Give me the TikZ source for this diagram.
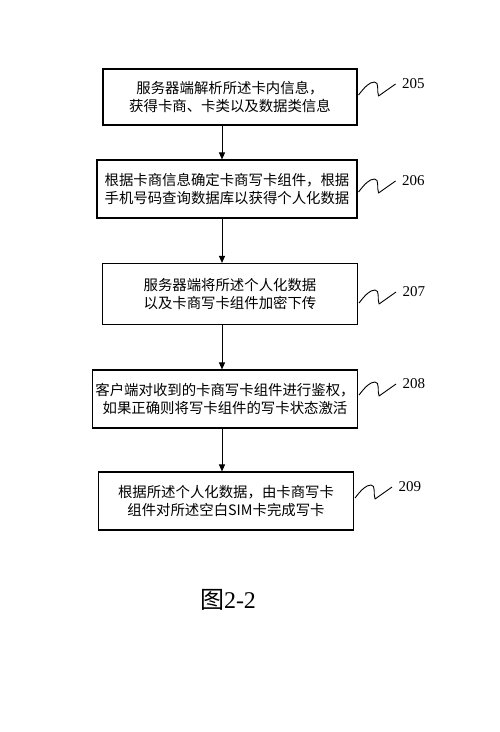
\documentclass[tikz,border=0pt]{standalone}
\usepackage{fontspec}
\setmainfont{Liberation Serif}
\newfontfamily\cjk{Noto Sans CJK SC}
\usetikzlibrary{calc, arrows.meta}

\begin{document}
\begin{tikzpicture}[x=1pt, y=-1pt,
    stepbox/.style={draw, line width=1.1pt, inner sep=2pt, align=center,
        font=\cjk\fontsize{14.4}{18}\selectfont},
    arr/.style={line width=1pt, -{Triangle[length=7pt, width=6pt]}},
    wave/.style={line width=0.9pt, line join=round},
    tag/.style={font=\fontsize{15}{16}\selectfont, anchor=west}]
    % --- 1. 頁面範圍 ---
    \useasboundingbox (0,0) rectangle (500,732);
    \def\ax{222}

    % --- 2. 五個步驟框 ---
    \node[stepbox, minimum width=254pt, minimum height=56pt] (b1) at (230,97)
        {服务器端解析所述卡内信息，\\获得卡商、卡类以及数据类信息};
    \node[stepbox, minimum width=260pt, minimum height=58pt] (b2) at (227,189)
        {根据卡商信息确定卡商写卡组件，根据\\手机号码查询数据库以获得个人化数据};
    \node[stepbox, minimum width=255pt, minimum height=61pt] (b3) at (230,294)
        {服务器端将所述个人化数据\\以及卡商写卡组件加密下传};
    \node[stepbox, minimum width=265pt, minimum height=58pt] (b4) at (225,399)
        {客户端对收到的卡商写卡组件进行鉴权，\\如果正确则将写卡组件的写卡状态激活};
    \node[stepbox, minimum width=255pt, minimum height=58pt] (b5) at (226,501)
        {根据所述个人化数据，由卡商写卡\\组件对所述空白SIM卡完成写卡};

    % --- 3. 箭頭 ---
    \coordinate (a) at (\ax,0);
    \draw[arr] (b1.south -| a) -- (b2.north -| a);
    \draw[arr] (b2.south -| a) -- (b3.north -| a);
    \draw[arr] (b3.south -| a) -- (b4.north -| a);
    \draw[arr] (b4.south -| a) -- (b5.north -| a);

    % --- 4. 波浪引線與編號 ---
    \foreach \b/\n/\dy in {b1/205/-2, b2/206/3, b3/207/9, b4/208/-4, b5/209/-3} {
        \coordinate (s) at ($(\b.east)+(1,\dy)$);
        \draw[wave] (s) .. controls +(6,-8) and +(-5,0) .. ++(16,-13)
            .. controls +(5,0) and +(-2,-5) .. ++(4,14)
            -- ++(17,-12);
        \node[tag] (t\n) at ($(s)+(40,-11)$) {\n};
    }

    % --- 5. 圖號 ---
    \node[font=\fontsize{24}{28}\selectfont] (cap) at (228,600)
        {{\cjk 图}2-2};
\end{tikzpicture}
\end{document}
